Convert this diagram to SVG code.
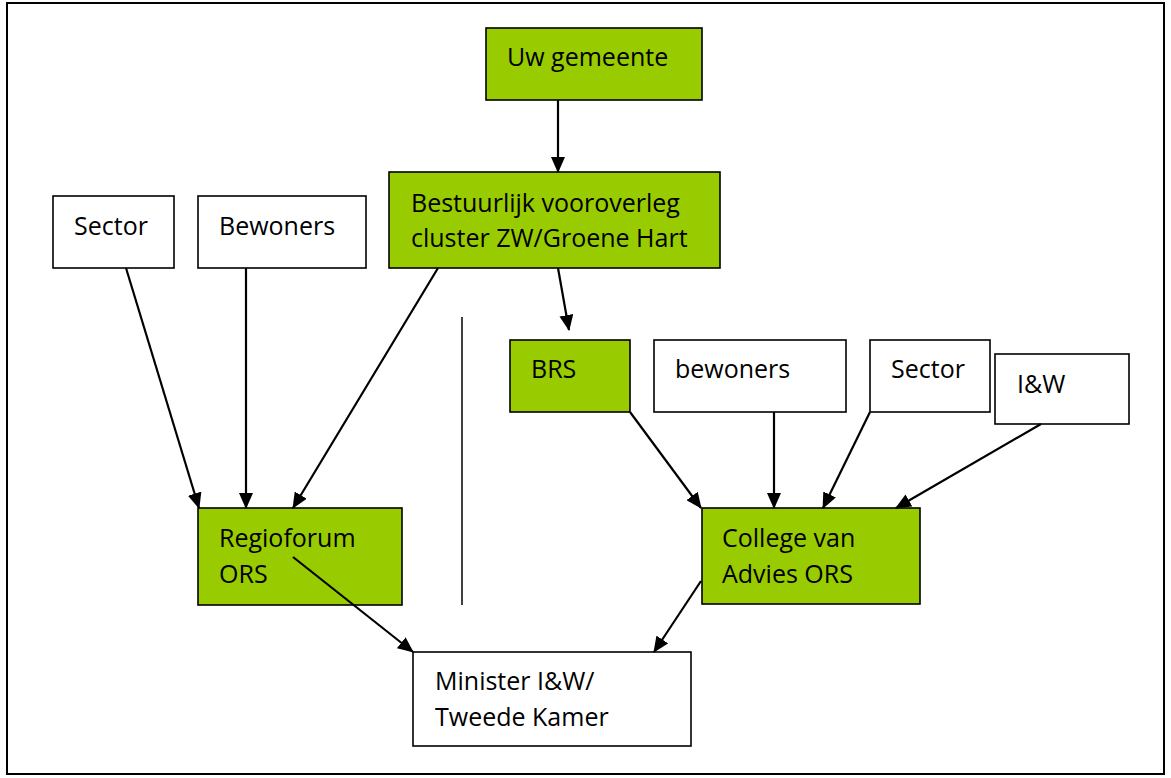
<svg xmlns="http://www.w3.org/2000/svg" width="1171" height="778" viewBox="0 0 1171 778">
<defs>
<marker id="ah" markerUnits="userSpaceOnUse" markerWidth="16" markerHeight="14" refX="15" refY="7" orient="auto">
<path d="M0,0 L16,7 L0,14 Z" fill="#000"/>
</marker>
<style>
.g{fill:#99CC00;stroke:#000;stroke-width:1.6}
.w{fill:#fff;stroke:#000;stroke-width:1.6}
.t{font-family:"Open Sans","Liberation Sans",sans-serif;font-size:25px;fill:#000}
.c{fill:none;stroke:#000;stroke-width:2.2;marker-end:url(#ah)}
</style>
</defs>
<rect x="0" y="0" width="1171" height="778" fill="#fff"/>
<rect x="7" y="3" width="1157" height="771" fill="none" stroke="#000" stroke-width="2"/>
<g id="uw-gemeente"><rect class="g" x="486" y="28" width="216" height="72"/><text class="t" x="507" y="66">Uw gemeente</text></g>
<g id="bestuurlijk"><rect class="g" x="389" y="172" width="331" height="96"/><text class="t" x="411" y="212">Bestuurlijk vooroverleg</text><text class="t" x="411" y="247">cluster ZW/Groene Hart</text></g>
<g id="sector-l"><rect class="w" x="53" y="196" width="121" height="72"/><text class="t" x="74" y="235">Sector</text></g>
<g id="bewoners-l"><rect class="w" x="198" y="196" width="168" height="72"/><text class="t" x="219" y="235">Bewoners</text></g>
<g id="regioforum"><rect class="g" x="198" y="508" width="204" height="97"/><text class="t" x="219" y="547">Regioforum</text><text class="t" x="219" y="583">ORS</text></g>
<g id="brs"><rect class="g" x="510" y="340" width="120" height="72"/><text class="t" x="531" y="378">BRS</text></g>
<g id="bewoners-r"><rect class="w" x="654" y="340" width="192" height="72"/><text class="t" x="675" y="378">bewoners</text></g>
<g id="sector-r"><rect class="w" x="870" y="340" width="120" height="72"/><text class="t" x="891" y="378">Sector</text></g>
<g id="iw"><rect class="w" x="995" y="354" width="134" height="70"/><text class="t" x="1017" y="393">I&amp;W</text></g>
<g id="college"><rect class="g" x="702" y="508" width="218" height="96"/><text class="t" x="722" y="547">College van</text><text class="t" x="722" y="583">Advies ORS</text></g>
<g id="minister"><rect class="w" x="413" y="652" width="278" height="94"/><text class="t" x="435" y="690">Minister I&amp;W/</text><text class="t" x="435" y="726">Tweede Kamer</text></g>
<line x1="462" y1="317" x2="462" y2="605" stroke="#000" stroke-width="1.5"/>
<g id="connectors">
<line class="c" x1="558" y1="100" x2="558" y2="172"/>
<line class="c" x1="558" y1="268" x2="569" y2="330"/>
<line class="c" x1="438" y1="268" x2="293" y2="508"/>
<line class="c" x1="126" y1="268" x2="199" y2="508"/>
<line class="c" x1="246" y1="268" x2="246" y2="508"/>
<line class="c" x1="293" y1="557" x2="413" y2="652"/>
<line class="c" x1="630" y1="412" x2="701" y2="508"/>
<line class="c" x1="774" y1="412" x2="774" y2="508"/>
<line class="c" x1="870" y1="412" x2="823" y2="508"/>
<line class="c" x1="1041" y1="424" x2="896" y2="508"/>
<line class="c" x1="701" y1="581" x2="654" y2="652"/>
</g>
</svg>
